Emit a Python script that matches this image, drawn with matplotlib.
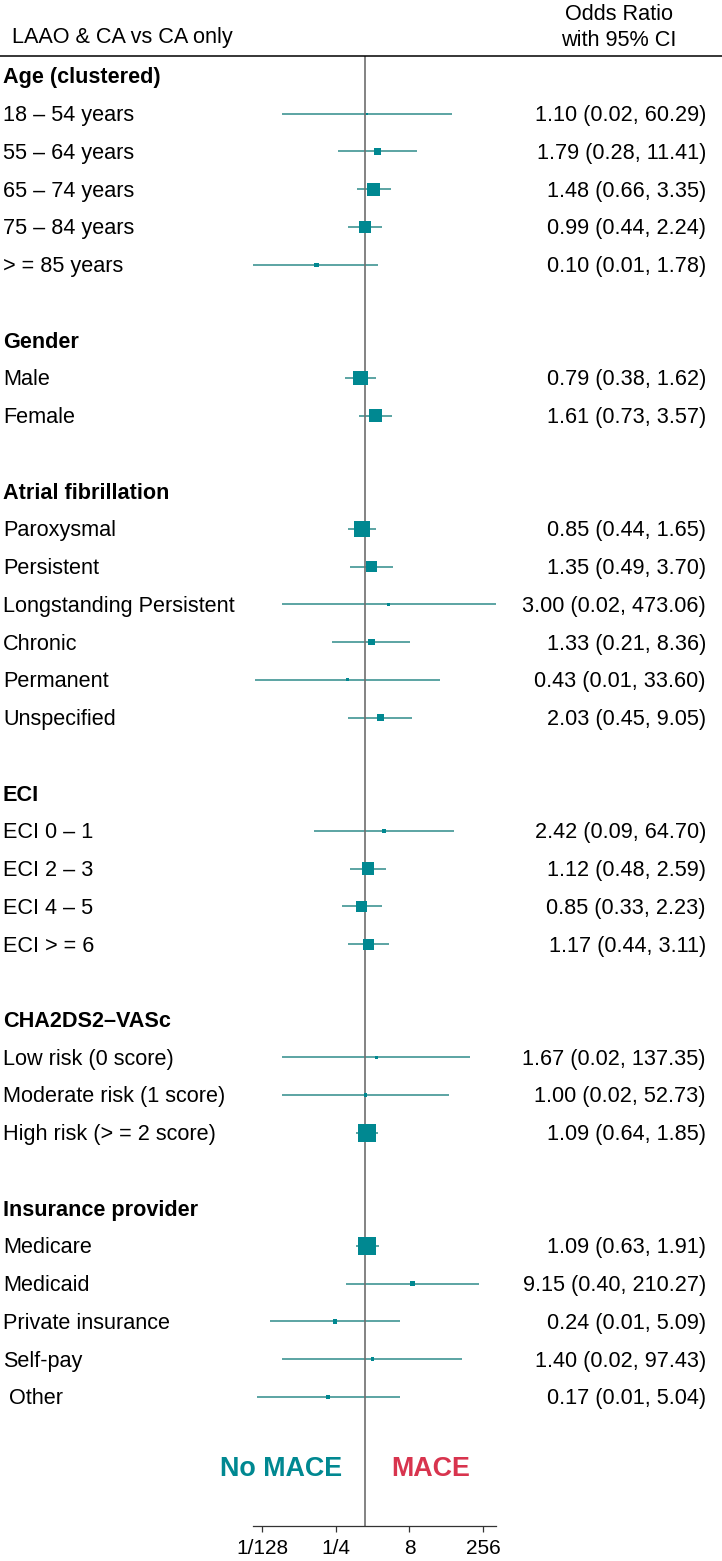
import matplotlib
matplotlib.use("Agg")
import matplotlib.pyplot as plt
from matplotlib.transforms import blended_transform_factory, offset_copy
from matplotlib.lines import Line2D

plt.rcParams['font.family'] = ['Liberation Sans', 'DejaVu Sans']

# ---------------- data ----------------
group_titles = ["Age (clustered)", "Gender", "Atrial fibrillation", "ECI",
                "CHA2DS2–VASc", "Insurance provider"]

age_labels = ["18 – 54 years", "55 – 64 years", "65 – 74 years", "75 – 84 years", "> = 85 years"]
age_or = [1.10, 1.79, 1.48, 0.99, 0.10]
age_lo = [0.02, 0.28, 0.66, 0.44, 0.005]
age_hi = [60.29, 11.41, 3.35, 2.24, 1.78]
age_txt = ["1.10 (0.02, 60.29)", "1.79 (0.28, 11.41)", "1.48 (0.66, 3.35)",
           "0.99 (0.44, 2.24)", "0.10 (0.01, 1.78)"]
age_w = [2, 6, 12, 11.5, 4]

gender_labels = ["Male", "Female"]
gender_or = [0.79, 1.61]
gender_lo = [0.38, 0.73]
gender_hi = [1.62, 3.57]
gender_txt = ["0.79 (0.38, 1.62)", "1.61 (0.73, 3.57)"]
gender_w = [13, 12]

af_labels = ["Paroxysmal", "Persistent", "Longstanding Persistent", "Chronic",
             "Permanent", "Unspecified"]
af_or = [0.85, 1.35, 3.00, 1.33, 0.43, 2.03]
af_lo = [0.44, 0.49, 0.02, 0.21, 0.0055, 0.45]
af_hi = [1.65, 3.70, 473.06, 8.36, 33.60, 9.05]
af_txt = ["0.85 (0.44, 1.65)", "1.35 (0.49, 3.70)", "3.00 (0.02, 473.06)",
          "1.33 (0.21, 8.36)", "0.43 (0.01, 33.60)", "2.03 (0.45, 9.05)"]
af_w = [14, 10, 3, 6, 3, 7]

eci_labels = ["ECI 0 – 1", "ECI 2 – 3", "ECI 4 – 5", "ECI > = 6"]
eci_or = [2.42, 1.12, 0.85, 1.17]
eci_lo = [0.09, 0.48, 0.33, 0.44]
eci_hi = [64.70, 2.59, 2.23, 3.11]
eci_txt = ["2.42 (0.09, 64.70)", "1.12 (0.48, 2.59)", "0.85 (0.33, 2.23)",
           "1.17 (0.44, 3.11)"]
eci_w = [4, 11, 10, 10]

cha_labels = ["Low risk (0 score)", "Moderate risk (1 score)", "High risk (> = 2 score)"]
cha_or = [1.67, 1.00, 1.09]
cha_lo = [0.02, 0.02, 0.64]
cha_hi = [137.35, 52.73, 1.85]
cha_txt = ["1.67 (0.02, 137.35)", "1.00 (0.02, 52.73)", "1.09 (0.64, 1.85)"]
cha_w = [3, 3, 16]

ins_labels = ["Medicare", "Medicaid", "Private insurance", "Self-pay", " Other"]
ins_or = [1.09, 9.15, 0.24, 1.40, 0.17]
ins_lo = [0.63, 0.40, 0.011, 0.02, 0.006]
ins_hi = [1.91, 210.27, 5.09, 97.43, 5.04]
ins_txt = ["1.09 (0.63, 1.91)", "9.15 (0.40, 210.27)", "0.24 (0.01, 5.09)",
           "1.40 (0.02, 97.43)", "0.17 (0.01, 5.04)"]
ins_w = [16.5, 4.5, 4, 3.5, 4]

tick_vals = [1/128, 1/4, 8, 256]
tick_labels = ["1/128", "1/4", "8", "256"]

groups = [
    (age_labels, age_or, age_lo, age_hi, age_txt, age_w),
    (gender_labels, gender_or, gender_lo, gender_hi, gender_txt, gender_w),
    (af_labels, af_or, af_lo, af_hi, af_txt, af_w),
    (eci_labels, eci_or, eci_lo, eci_hi, eci_txt, eci_w),
    (cha_labels, cha_or, cha_lo, cha_hi, cha_txt, cha_w),
    (ins_labels, ins_or, ins_lo, ins_hi, ins_txt, ins_w),
]

# ---------------- layout ----------------
W, H = 722, 1561
fig = plt.figure(figsize=(W / 100, H / 100), dpi=100)

row0_px = 76.0
row_h = 37.74
top_px, axis_px = 56.0, 1526.0
left_px, right_px = 253.0, 496.0

def px2row(p):
    return (p - row0_px) / row_h

ax = fig.add_axes([left_px / W, 1 - axis_px / H, (right_px - left_px) / W,
                   (axis_px - top_px) / H])
ax.set_xscale('log', base=2)
ax.set_ylim(px2row(axis_px), px2row(top_px))

teal = "#008891"
ci_col = "#3F9593"
red = "#D8344E"
fs = 15.6
box_scale = 1.1

trans = blended_transform_factory(fig.transFigure, ax.transData)
trans_txt = offset_copy(trans, fig=fig, x=0, y=-2, units='dots')

all_lo, all_hi = [], []
row = 0
for title, (labs, ors, los, his, txts, ws) in zip(group_titles, groups):
    ax.text(3 / W, row, title, transform=trans_txt, fontsize=fs, fontweight='bold',
            ha='left', va='center', clip_on=False)
    row += 1
    ys = list(range(row, row + len(labs)))
    ax.hlines(ys, los, his, color=ci_col, lw=1.2, zorder=1)
    ax.scatter(ors, ys, marker='s', s=[(w * box_scale * 0.72) ** 2 for w in ws],
               color=teal, edgecolors='none', zorder=3)
    for y, lab, t in zip(ys, labs, txts):
        ax.text(3 / W, y, lab, transform=trans_txt, fontsize=fs, ha='left',
                va='center', clip_on=False)
        ax.text(706 / W, y, t, transform=trans_txt, fontsize=fs, ha='right',
                va='center', clip_on=False)
    all_lo += los
    all_hi += his
    row += len(labs) + 1

ax.axvline(1, color="#6E6E6E", lw=1.2, zorder=2)
ax.set_xlim(min(all_lo), max(all_hi))

ax.set_xticks(tick_vals)
ax.set_xticklabels(tick_labels)
ax.minorticks_off()
ax.tick_params(axis='x', direction='out', length=4, width=0.9, labelsize=15,
               pad=5, color="#333333")
ax.tick_params(axis='y', left=False, labelleft=False)
for s in ['top', 'left', 'right']:
    ax.spines[s].set_visible(False)
ax.spines['bottom'].set_linewidth(0.9)
ax.spines['bottom'].set_color("#333333")
ax.patch.set_alpha(0)

# header
fig.text(12 / W, 1 - 37 / H, "LAAO & CA vs CA only", fontsize=fs, ha='left', va='center')
fig.text(619 / W, 1 - 15 / H, "Odds Ratio", fontsize=fs, ha='center', va='center')
fig.text(619 / W, 1 - 40 / H, "with 95% CI", fontsize=fs, ha='center', va='center')
fig.add_artist(Line2D([0, 1], [1 - top_px / H, 1 - top_px / H], color='black', lw=1.1,
                      transform=fig.transFigure))

# direction labels
fig.text(281.5 / W, 1 - 1469 / H, "No MACE", fontsize=19.4, fontweight='bold',
         color=teal, ha='center', va='center')
fig.text(431 / W, 1 - 1469 / H, "MACE", fontsize=19.4, fontweight='bold',
         color=red, ha='center', va='center')

fig.savefig("out.png", dpi=100)
